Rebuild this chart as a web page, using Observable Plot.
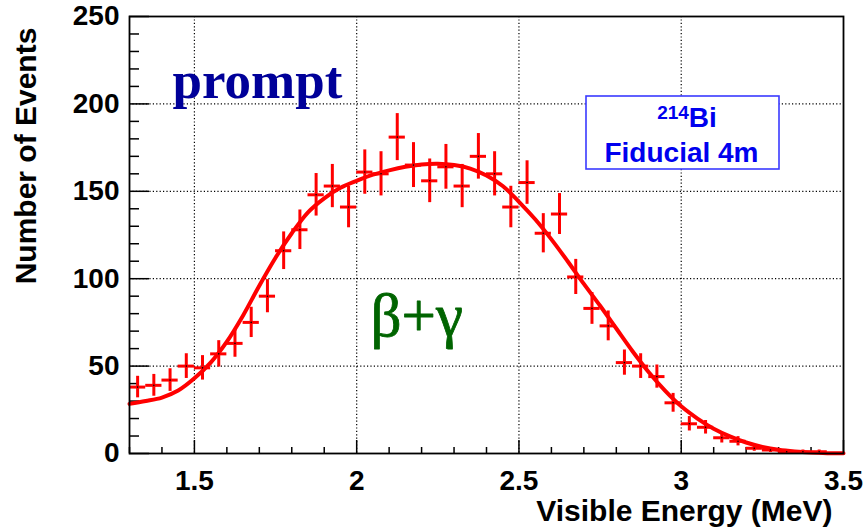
<!DOCTYPE html>
<html>
<head>
<meta charset="utf-8">
<script src="https://cdn.jsdelivr.net/npm/d3@7"></script>
<script src="https://cdn.jsdelivr.net/npm/@observablehq/plot@0.6"></script>
<style>
  html, body { margin: 0; padding: 0; background: #fff; }
  #chart { width: 867px; height: 530px; }
</style>
</head>
<body>
<div id="chart"></div>
<script>
// ---- data ----
const binCenters = [1.325,1.375,1.425,1.475,1.525,1.575,1.625,1.675,1.725,1.775,1.825,1.875,1.925,1.975,
  2.025,2.075,2.125,2.175,2.225,2.275,2.325,2.375,2.425,2.475,2.525,2.575,2.625,2.675,2.725,2.775,
  2.825,2.875,2.925,2.975,3.025,3.075,3.125,3.175,3.225,3.275,3.325,3.375,3.425,3.475];
const counts = [38,39,42,50,49,57,63,75,90,116,128,148,153,141,
  161,160,181,165,156,164,153,170,160,141,155,126,137,101,83,73,
  52,50,44,29,17,15,9,7,3,2,1,1,1,0];
const binWidth = 0.05;

const fitEnergy = [1.30,1.35,1.40,1.45,1.50,1.55,1.60,1.65,1.70,1.75,1.80,1.85,1.90,1.95,2.00,2.05,2.10,2.15,2.20,2.25,
  2.30,2.35,2.40,2.45,2.50,2.55,2.60,2.65,2.70,2.75,2.80,2.85,2.90,2.95,3.00,3.05,3.10,3.15,3.20,3.25,3.30,3.35,3.40,3.45,3.50];
const fitCounts = [28.4,30,32,36,43,52,64,79,96,112,126,138,146,152,156,159.5,162,164,165.3,165.7,
  165,163,159,153,144,134,122.5,110,97,84.5,71.5,58.5,46.5,36,27,20,14.2,9.8,6.3,3.8,2.1,1.1,0.5,0.2,0.1];

const xMajorTicks = [1.5,2,2.5,3,3.5];
const xTickLabels = ["1.5","2","2.5","3","3.5"];
const xMinorTicks = [1.3,1.4,1.6,1.7,1.8,1.9,2.1,2.2,2.3,2.4,2.6,2.7,2.8,2.9,3.1,3.2,3.3,3.4];
const xGrid = [1.5,2,2.5,3];
const yMajorTicks = [0,50,100,150,200,250];
const yTickLabels = ["0","50","100","150","200","250"];
const yMinorTicks = [10,20,30,40,60,70,80,90,110,120,130,140,160,170,180,190,210,220,230,240];
const yGrid = [50,100,150,200];

const xTitle = "Visible Energy (MeV)";
const yTitle = "Number of Events";

// ---- build table ----
const points = binCenters.map((e, i) => ({e, n: counts[i], err: Math.sqrt(counts[i])})).filter(d => d.n > 0);
const fit = fitEnergy.map((e, i) => ({e, n: fitCounts[i]}));

const W = 867, H = 530;
const mL = 129, mR = 24, mT = 16, mB = 77;
const fw = W - mL - mR, fh = H - mT - mB;
const red = "#ff0000";

const plot = Plot.plot({
  width: W, height: H,
  marginLeft: mL, marginRight: mR, marginTop: mT, marginBottom: mB,
  style: {fontFamily: "'Liberation Sans', Arial, sans-serif", fontWeight: "bold", fontSize: "28px", color: "#000", background: "#fff"},
  x: {domain: [1.3, 3.5], ticks: xMajorTicks, tickSize: 0, tickPadding: 17,
      tickFormat: (d) => xTickLabels[xMajorTicks.indexOf(d)], label: null},
  y: {domain: [0, 250], ticks: yMajorTicks, tickSize: 0, tickPadding: 10,
      tickFormat: (d) => yTickLabels[yMajorTicks.indexOf(d)], label: null},
  marks: [
    Plot.ruleX(xGrid, {x: d => d, stroke: "#000", strokeWidth: 1.2, strokeDasharray: "1.2,2.2"}),
    Plot.ruleY(yGrid, {y: d => d, stroke: "#000", strokeWidth: 1.2, strokeDasharray: "1.2,2.2"}),
    Plot.tickX(xMajorTicks, {x: d => d, insetTop: fh - 13, stroke: "#000", strokeWidth: 1.5}),
    Plot.tickX(xMinorTicks, {x: d => d, insetTop: fh - 6, stroke: "#000", strokeWidth: 1.5}),
    Plot.tickY(yMajorTicks, {y: d => d, insetRight: fw - 20, stroke: "#000", strokeWidth: 1.5}),
    Plot.tickY(yMinorTicks, {y: d => d, insetRight: fw - 10, stroke: "#000", strokeWidth: 1.5}),
    Plot.line(fit, {x: "e", y: "n", stroke: red, strokeWidth: 4, curve: "catmull-rom"}),
    Plot.ruleX(points, {x: "e", y1: d => d.n - d.err, y2: d => d.n + d.err, stroke: red, strokeWidth: 3}),
    Plot.ruleY(points, {y: "n", x1: d => d.e - binWidth / 2, x2: d => d.e + binWidth / 2, stroke: red, strokeWidth: 3}),
    Plot.dot(points, {x: "e", y: "n", r: 0.8, fill: "#000", stroke: null}),
    Plot.frame({stroke: "#000", strokeWidth: 1.8}),
    Plot.text([yTitle], {frameAnchor: "left", textAnchor: "middle", lineAnchor: "middle", dx: -103, dy: -79, rotate: -90,
      fontSize: 30, fontWeight: "bold", fill: "#000"}),
    Plot.text([xTitle], {frameAnchor: "bottom-right", textAnchor: "end", lineAnchor: "middle", dx: -11, dy: 58, fontSize: 30,
      fontWeight: "bold", fill: "#000"}),
    Plot.text(["prompt"], {frameAnchor: "top-left", textAnchor: "start", lineAnchor: "middle", dx: 43, dy: 65, fontSize: 53,
      fontWeight: "bold", fontFamily: "'Liberation Serif', 'Times New Roman', serif", fill: "#000099"}),
    Plot.text(["β+γ"], {frameAnchor: "top-left", textAnchor: "start", lineAnchor: "middle", dx: 241, dy: 300, fontSize: 61,
      fontWeight: "normal", fontFamily: "'Liberation Serif', 'Times New Roman', serif", fill: "#006400",
      stroke: "#006400", strokeWidth: 0.8})
  ]
});

document.getElementById("chart").appendChild(plot);

// ---- annotation box (214Bi / Fiducial 4m) ----
const svg = d3.select(plot);
const box = svg.append("g").attr("font-family", "'Liberation Sans', Arial, sans-serif").attr("font-weight", "bold");
box.append("rect").attr("x", mL + 457).attr("y", 96).attr("width", 193).attr("height", 73)
  .attr("fill", "#fff").attr("stroke", "#3a3aff").attr("stroke-width", 1.6);
const t1 = box.append("text").attr("x", mL + 558).attr("y", 126.5).attr("text-anchor", "middle").attr("fill", "#0000ee");
t1.append("tspan").attr("font-size", 19).attr("dy", -8).text("214");
t1.append("tspan").attr("font-size", 28).attr("dy", 8).text("Bi");
box.append("text").attr("x", mL + 552.5).attr("y", 161.5).attr("text-anchor", "middle").attr("fill", "#0000ee")
  .attr("font-size", 28).text("Fiducial 4m");
</script>
</body>
</html>
